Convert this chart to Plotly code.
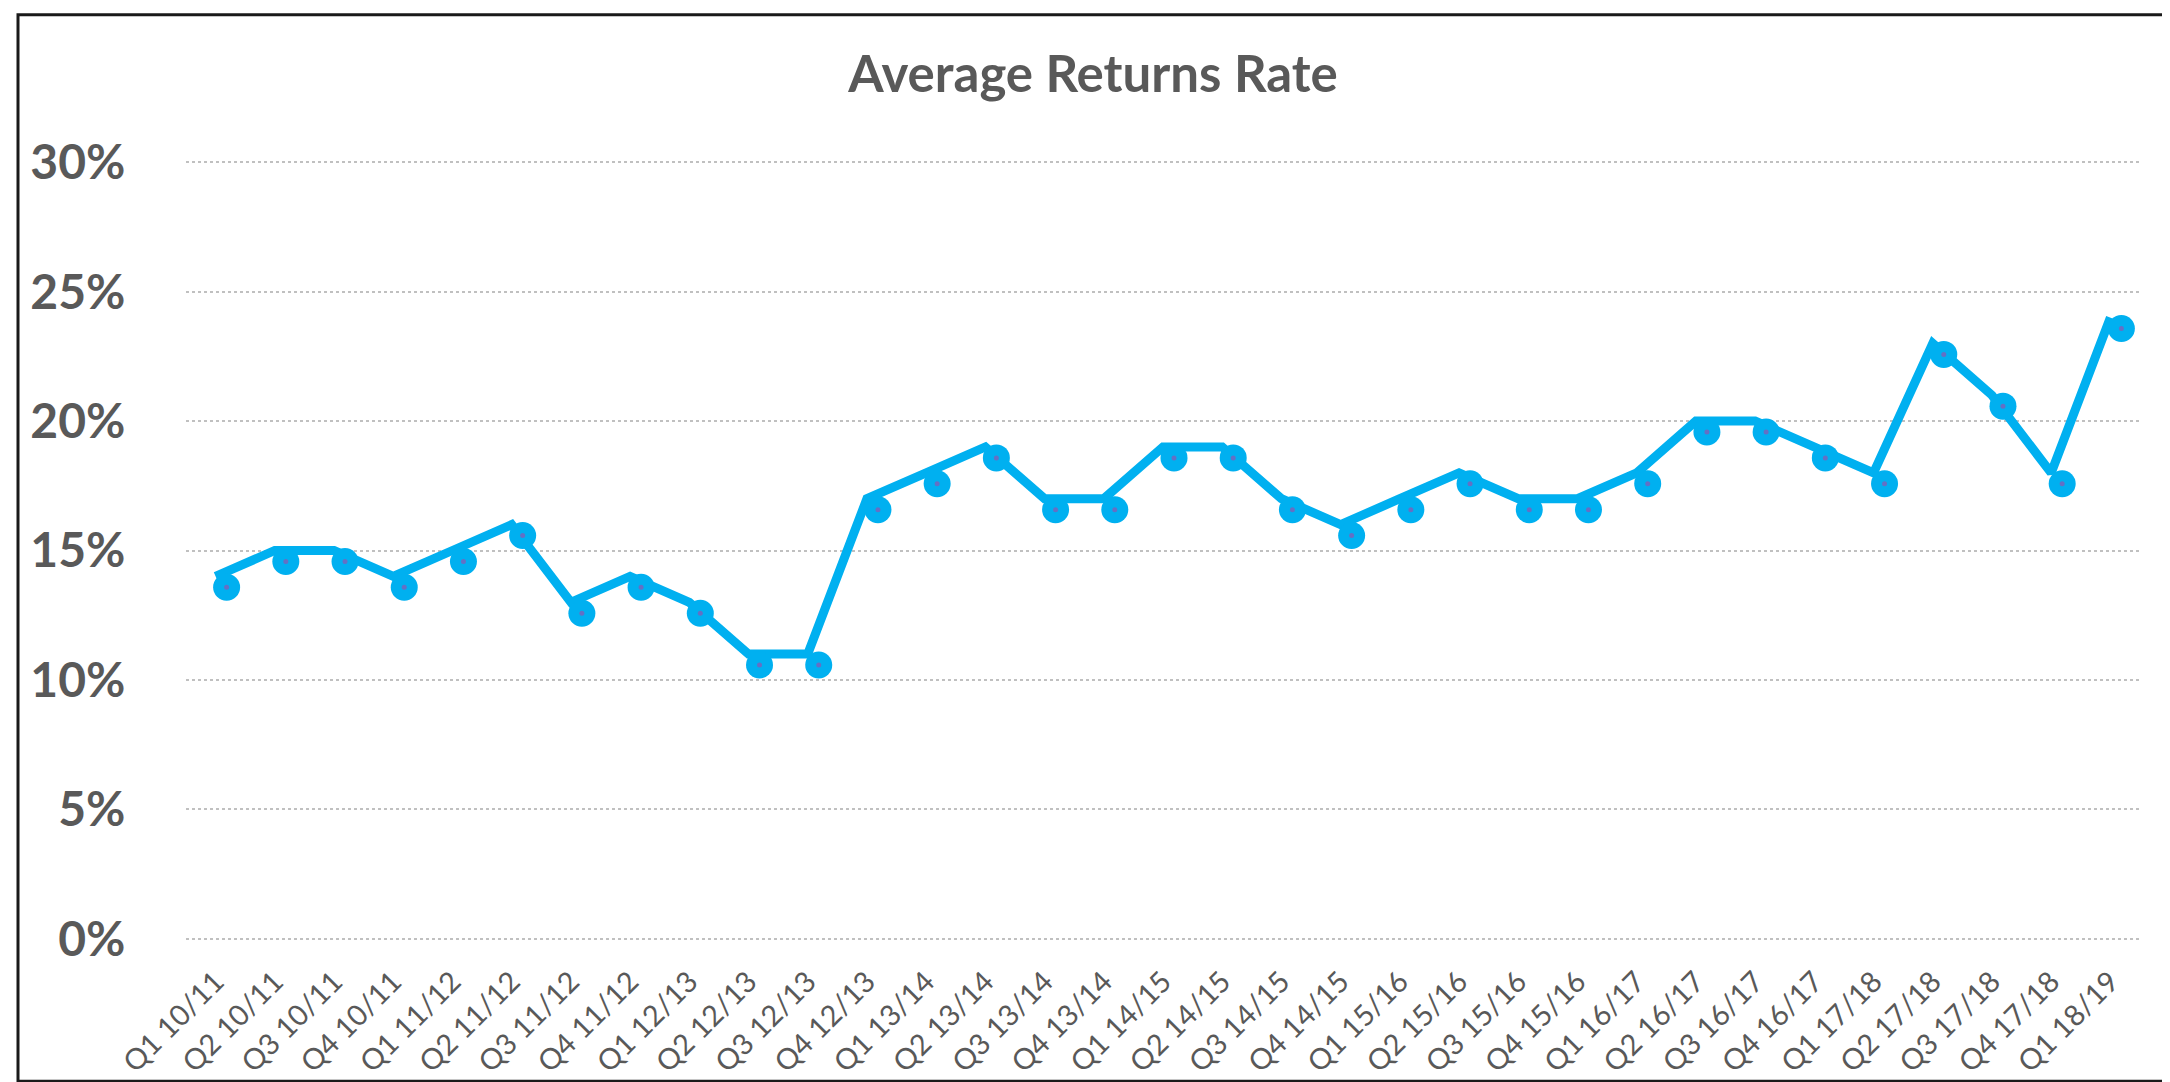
import plotly.graph_objects as go

quarters = ["Q1 10/11", "Q2 10/11", "Q3 10/11", "Q4 10/11",
            "Q1 11/12", "Q2 11/12", "Q3 11/12", "Q4 11/12",
            "Q1 12/13", "Q2 12/13", "Q3 12/13", "Q4 12/13",
            "Q1 13/14", "Q2 13/14", "Q3 13/14", "Q4 13/14",
            "Q1 14/15", "Q2 14/15", "Q3 14/15", "Q4 14/15",
            "Q1 15/16", "Q2 15/16", "Q3 15/16", "Q4 15/16",
            "Q1 16/17", "Q2 16/17", "Q3 16/17", "Q4 16/17",
            "Q1 17/18", "Q2 17/18", "Q3 17/18", "Q4 17/18",
            "Q1 18/19"]
returns_rate = [14, 15, 15, 14, 15, 16, 13, 14, 13, 11, 11, 17,
                18, 19, 17, 17, 19, 19, 17, 16, 17, 18, 17, 17,
                18, 20, 20, 19, 18, 23, 21, 18, 24]
y_ticks = [0, 5, 10, 15, 20, 25, 30]
y_tick_labels = [f"{v}%" for v in y_ticks]

W, H = 2170, 1082
ML, MR, MT, MB = 178, 38, 153, 146
PW, PH = W - ML - MR, H - MT - MB
n = len(quarters)
Y0, Y1 = -0.05, 30.05

# marker layer is drawn slightly offset (down/right) from the line, as in the reference
dx = 11 / (PW / n)
dy = 11 / (PH / (Y1 - Y0))

BLUE = "#00B0F0"
GREY = "#595959"

fig = go.Figure()
fig.add_trace(go.Scatter(x=quarters, y=returns_rate, mode="lines",
                         line=dict(color=BLUE, width=9), showlegend=False,
                         hoverinfo="skip"))
fig.add_trace(go.Scatter(x=quarters, y=returns_rate, mode="markers",
                         marker=dict(color=BLUE, size=27, line=dict(width=0)),
                         xaxis="x2", yaxis="y2", showlegend=False))
fig.add_trace(go.Scatter(x=quarters, y=returns_rate, mode="markers",
                         marker=dict(color="#6470C4", size=5, line=dict(width=0)),
                         xaxis="x2", yaxis="y2", showlegend=False, hoverinfo="skip"))

fig.update_layout(
    width=W, height=H,
    margin=dict(l=ML, r=MR, t=MT, b=MB, pad=0),
    paper_bgcolor="white", plot_bgcolor="white",
    title=dict(text="Average Returns Rate", x=0.5, xref="container", xanchor="center",
               y=1 - 66 / H, yref="container", yanchor="middle",
               font=dict(family="Lato", size=51, color=GREY, weight="bold")),
    xaxis=dict(type="category", categoryorder="array", categoryarray=quarters,
               range=[-0.5, n - 0.5], showgrid=False, zeroline=False, showline=False,
               tickangle=-45, ticks="outside", ticklen=12, tickcolor="rgba(0,0,0,0)",
               tickfont=dict(family="Lato", size=29, color=GREY)),
    yaxis=dict(range=[Y0, Y1], tickvals=y_ticks, ticktext=y_tick_labels,
               showgrid=True, gridcolor="#C0C0C0", gridwidth=1.5, griddash="dot",
               zeroline=False, showline=False,
               ticks="outside", ticklen=50, tickcolor="rgba(0,0,0,0)",
               tickfont=dict(family="Lato", size=48, color=GREY, weight="bold")),
    xaxis2=dict(type="category", categoryorder="array", categoryarray=quarters,
                overlaying="x", range=[-0.5 - dx, n - 0.5 - dx], visible=False),
    yaxis2=dict(overlaying="y", range=[Y0 + dy, Y1 + dy], visible=False),
    shapes=[dict(type="rect", xref="paper", yref="paper",
                 x0=(10 - ML) / PW, x1=(2165 - ML) / PW,
                 y0=(MT + PH - 1078) / PH, y1=(MT + PH - 6) / PH,
                 line=dict(color="#1A1A1A", width=3), fillcolor="rgba(0,0,0,0)",
                 layer="above")],
)

fig.write_html("out.html")
